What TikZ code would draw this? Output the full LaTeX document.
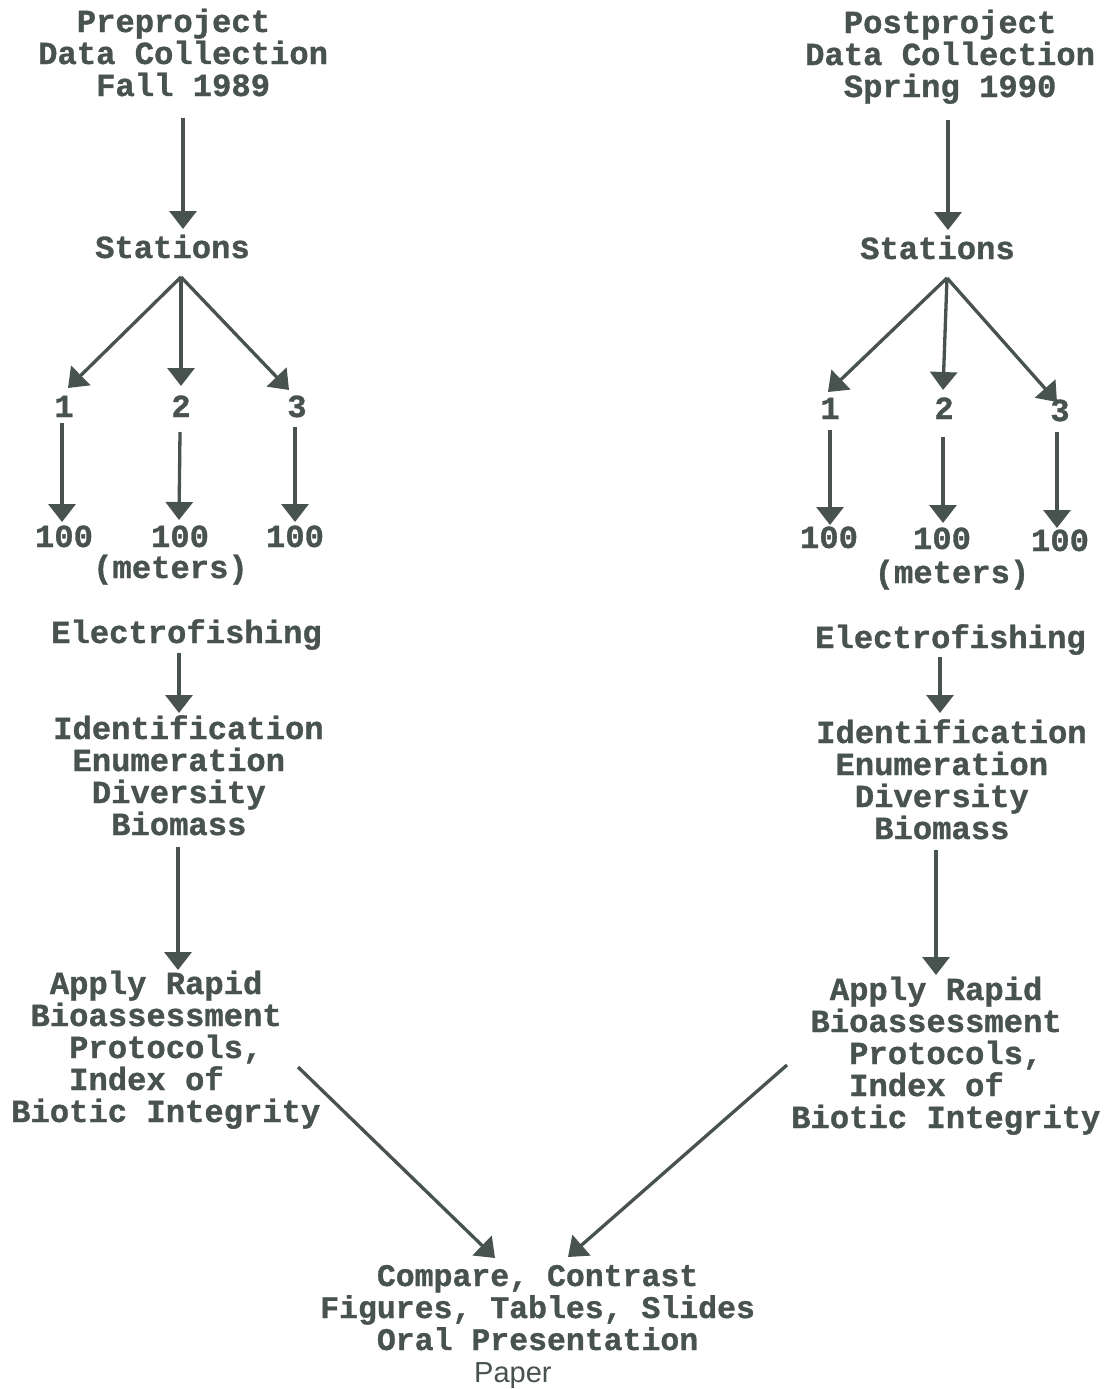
\documentclass[tikz,border=0pt]{standalone}
\usepackage{fontspec}
\setmonofont{Liberation Mono}[BoldFeatures={FakeBold=1}]
\newfontfamily\paperfont{Liberation Sans}
\usetikzlibrary{arrows.meta,calc}
\definecolor{ink}{RGB}{72,82,78}
\newcommand{\lead}[1]{\hphantom{#1}}
\begin{document}
\begin{tikzpicture}[x=1pt,y=-1pt,
  txt/.style={font={\ttfamily\bfseries\fontsize{32.2pt}{32pt}\selectfont},
    text=ink, inner sep=0pt, align=left, anchor=base west},
  small/.style={txt, anchor=base},
  btxt/.style={txt, font={\ttfamily\bfseries\fontsize{31.5pt}{32pt}\selectfont}},
  arr/.style={draw=ink, line width=3.3pt, -{Triangle[width=27pt,length=18pt]}}]
\fill[white] (0,0) rectangle (1103,1389);
\useasboundingbox (0,0) rectangle (1103,1389);

% multi-line nodes are placed by the baseline of their last line

% ---- left column: preproject
\node[txt] (preL) at (38,96) {\lead{XX}Preproject\\Data Collection\\\lead{XXX}Fall 1989};
\node[txt] (stL) at (95,258) {Stations};
\node[small] (n1L) at (64,417) {1};
\node[small] (n2L) at (181,417) {2};
\node[small] (n3L) at (297,417) {3};
\node[small] (m1L) at (64,547) {100};
\node[small] (m2L) at (180,547) {100};
\node[small] (m3L) at (295,547) {100};
\node[small] (metL) at (170.5,578) {(meters)};
\node[txt] (elL) at (51,643) {Electrofishing};
\node[txt] (idL) at (53,835) {Identification\\\lead{X}Enumeration\\\lead{XX}Diversity\\\lead{XXX}Biomass};
\node[txt] (apL) at (11,1122) {\lead{XX}Apply Rapid\\\lead{X}Bioassessment\\\lead{XXX}Protocols,\\\lead{XXX}Index of\\Biotic Integrity};

% ---- right column: postproject
\node[txt] (preR) at (805,97) {\lead{XX}Postproject\\Data Collection\\\lead{XX}Spring 1990};
\node[txt] (stR) at (860,259) {Stations};
\node[small] (n1R) at (830,419) {1};
\node[small] (n2R) at (944,419) {2};
\node[small] (n3R) at (1060,421) {3};
\node[small] (m1R) at (829,548) {100};
\node[small] (m2R) at (942,549) {100};
\node[small] (m3R) at (1060,551) {100};
\node[small] (metR) at (952,583) {(meters)};
\node[txt] (elR) at (815,648) {Electrofishing};
\node[txt] (idR) at (816,839) {Identification\\\lead{X}Enumeration\\\lead{XX}Diversity\\\lead{XXX}Biomass};
\node[txt] (apR) at (791,1128) {\lead{XX}Apply Rapid\\\lead{X}Bioassessment\\\lead{XXX}Protocols,\\\lead{XXX}Index of\\Biotic Integrity};

% ---- bottom: results
\node[btxt] (cmp) at (320,1350) {\lead{XXX}Compare, Contrast\\Figures, Tables, Slides\\\lead{XXX}Oral Presentation};
\node[text=ink, inner sep=0pt, anchor=base west,
  font={\paperfont\fontsize{29pt}{32pt}\selectfont}] (paper) at (474,1382) {Paper};

% ---- connectors, left
\draw[arr] ($(preL.base west)+(145,22)$) -- ($(stL.base west)+(88,-29)$);
\draw[arr] ($(stL.base west)+(86,19)$) -- ($(n1L.base)+(4,-29)$);
\draw[arr] ($(stL.base west)+(86,19)$) -- ($(n2L.base)+(0,-31)$);
\draw[arr] ($(stL.base west)+(86,19)$) -- ($(n3L.base)+(-8,-27)$);
\draw[arr] ($(n1L.base)+(-2,6)$) -- ($(m1L.base)+(-2,-25)$);
\draw[arr] ($(n2L.base)+(-1,15)$) -- ($(m2L.base)+(-1,-27)$);
\draw[arr] ($(n3L.base)+(-2,10)$) -- ($(m3L.base)+(0,-25)$);
\draw[arr] ($(elL.base west)+(128,10)$) -- ($(idL.base west)+(126,-122)$);
\draw[arr] ($(idL.base west)+(125,12)$) -- ($(apL.base west)+(167,-152)$);
\draw[arr] ($(apL.base west)+(287,-55)$) -- ($(cmp.base west)+(175,-92)$);

% ---- connectors, right
\draw[arr] ($(preR.base west)+(143,23)$) -- ($(stR.base west)+(88,-29)$);
\draw[arr] ($(stR.base west)+(87,19)$) -- ($(n1R.base)+(-2,-27)$);
\draw[arr] ($(stR.base west)+(87,19)$) -- ($(n2R.base)+(-1,-29)$);
\draw[arr] ($(stR.base west)+(87,19)$) -- ($(n3R.base)+(-3,-19)$);
\draw[arr] ($(n1R.base)+(0,11)$) -- ($(m1R.base)+(1,-23)$);
\draw[arr] ($(n2R.base)+(-1,18)$) -- ($(m2R.base)+(1,-26)$);
\draw[arr] ($(n3R.base)+(-3,11)$) -- ($(m3R.base)+(-3,-23)$);
\draw[arr] ($(elR.base west)+(125,9)$) -- ($(idR.base west)+(124,-126)$);
\draw[arr] ($(idR.base west)+(120,11)$) -- ($(apR.base west)+(145,-153)$);
\draw[arr] ($(apR.base west)+(-4,-63)$) -- ($(cmp.base west)+(248,-93)$);
\end{tikzpicture}
\end{document}
